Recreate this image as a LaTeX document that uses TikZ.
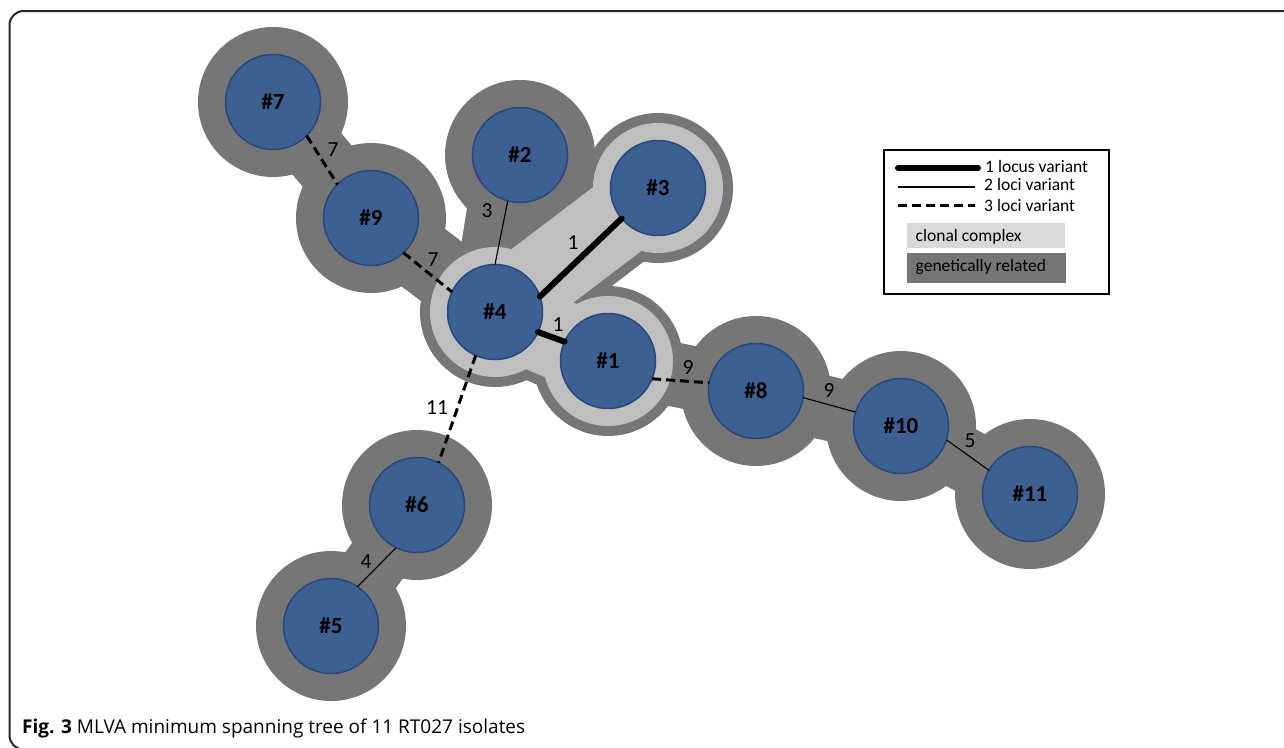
\documentclass[tikz,border=0pt]{standalone}
\usepackage{fontspec}
\setmainfont{Carlito}
\newfontfamily\capfont{Open Sans}
\definecolor{nodeblue}{RGB}{60,96,146}
\definecolor{nodeedge}{RGB}{40,72,124}
\definecolor{dkgray}{RGB}{118,118,118}
\definecolor{ltgray}{RGB}{191,191,191}
\definecolor{lgbox}{RGB}{217,217,217}
\begin{document}
\begin{tikzpicture}[x=1pt,y=-1pt,
  isolate/.style={circle, draw=nodeedge, line width=1.5pt, fill=nodeblue,
    minimum size=95pt, inner sep=0pt, outer sep=0pt,
    font=\fontsize{23}{27}\selectfont\bfseries},
  elabel/.style={inner sep=0pt, font=\fontsize{21.5}{25}\selectfont},
  leglabel/.style={anchor=base west, inner sep=0pt, font=\fontsize{17.5}{21}\selectfont},
  onelocus/.style={line width=6pt, line cap=round},
  twoloci/.style={line width=1.1pt},
  threeloci/.style={line width=3pt, dash pattern=on 9pt off 5pt},
  halo/.style={dkgray},
  clonal/.style={ltgray}]
\useasboundingbox (0,0) rectangle (1284,747);
\clip (0,0) rectangle (1284,747);
% positions
\coordinate (c1) at (608,361);
\coordinate (c2) at (520,155);
\coordinate (c3) at (658,188);
\coordinate (c4) at (495,312);
\coordinate (c5) at (331,626);
\coordinate (c6) at (417,505);
\coordinate (c7) at (273,102);
\coordinate (c8) at (756,391);
\coordinate (c9) at (371,218);
\coordinate (c10) at (901,426);
\coordinate (c11) at (1030,494);
% frame
\draw[line width=2pt, rounded corners=14pt, black!85] (1400,11) -- (9.5,11) -- (9.5,749.5) -- (1400,749.5);
% genetically related halo
\foreach \c in {c1,c2,c3,c4,c5,c6,c7,c8,c9,c10,c11}
  \fill[halo] (\c) circle[radius=75pt];
\draw[halo, line width=64pt] (c7) -- (c9);
\draw[halo, line width=72pt] (c9) -- (c4);
\draw[halo, line width=88pt] (c2) -- (c4);
\draw[halo, line width=100pt] (c4) -- (c3);
\draw[halo, line width=100pt] (c4) -- (c1);
\draw[halo, line width=64pt] (c1) -- (c8);
\draw[halo, line width=64pt] (c8) -- (c10);
\draw[halo, line width=64pt] (c10) -- (c11);
\draw[halo, line width=62pt] (c6) -- (c5);
% clonal complex
\foreach \c in {c1,c3,c4}
  \fill[clonal] (\c) circle[radius=65pt];
\draw[clonal, line width=80pt] (c4) -- (c3);
\draw[clonal, line width=80pt] (c4) -- (c1);
% isolates
\node[isolate] (n1) at (c1) {\#1};
\node[isolate] (n2) at (c2) {\#2};
\node[isolate] (n3) at (c3) {\#3};
\node[isolate] (n4) at (c4) {\#4};
\node[isolate] (n5) at (c5) {\#5};
\node[isolate] (n6) at (c6) {\#6};
\node[isolate] (n7) at (c7) {\#7};
\node[isolate] (n8) at (c8) {\#8};
\node[isolate] (n9) at (c9) {\#9};
\node[isolate] (n10) at (c10) {\#10};
\node[isolate] (n11) at (c11) {\#11};
% links
\draw[threeloci] (n7.-45) -- (n9.135.6);
\draw[threeloci] (n9.-47) -- (n4.155);
\draw[twoloci] (n2.255.7) -- (n4.90);
\draw[onelocus] (n4.19.2) -- (n3.220.6);
\draw[onelocus] (n4.-25.5) -- (n1.156.3);
\draw[threeloci] (n1.-22.2) -- (n8.170);
\draw[twoloci] (n8.-8.8) -- (n10.163.5);
\draw[twoloci] (n10.-17.6) -- (n11.150);
\draw[threeloci] (n4.246.9) -- (n6.63.4);
\draw[twoloci] (n6.244) -- (n5.56.2);
% link labels
\node[elabel] (l79) at (333,150) {7};
\node[elabel] (l94) at (433,260) {7};
\node[elabel] (l24) at (487,211) {3};
\node[elabel] (l43) at (573,243) {1};
\node[elabel] (l41) at (558,325) {1};
\node[elabel] (l18) at (688,368) {9};
\node[elabel] (l810) at (829,391) {9};
\node[elabel] (l1011) at (970,441) {5};
\node[elabel] (l46) at (437,408) {11};
\node[elabel] (l65) at (366,562) {4};
% legend
\node[draw, line width=2pt, minimum width=225pt, minimum height=144pt, anchor=north west, inner sep=0pt] (legend) at (883,149) {};
\coordinate (a1) at (898,168); \coordinate (b1) at (978,168);
\coordinate (a2) at (898,187); \coordinate (b2) at (975,187);
\coordinate (a3) at (898,205); \coordinate (b3) at (975,205);
\draw[onelocus] (a1) -- (b1);
\draw[twoloci] (a2) -- (b2);
\draw[threeloci] (a3) -- (b3);
\node[leglabel] (t1) at (985,172) {1 locus variant};
\node[leglabel] (t2) at (984,190.5) {2 loci variant};
\node[leglabel] (t3) at (984,211) {3 loci variant};
\node[fill=lgbox, minimum width=158pt, minimum height=25pt, anchor=north west, inner sep=0pt] (bcc) at (907,223) {};
\node[fill=dkgray, minimum width=159pt, minimum height=30pt, anchor=north west, inner sep=0pt] (bgr) at (907,253) {};
\node[leglabel] (t4) at (915.5,241.5) {clonal complex};
\node[leglabel] (t5) at (915.5,271.5) {genetically related};
% caption
\node[anchor=base west, inner sep=0pt, font=\capfont\fontsize{19}{22}\selectfont] (cap) at (22,733)
  {\textbf{Fig. 3} MLVA minimum spanning tree of 11 RT027 isolates};
\end{tikzpicture}
\end{document}
